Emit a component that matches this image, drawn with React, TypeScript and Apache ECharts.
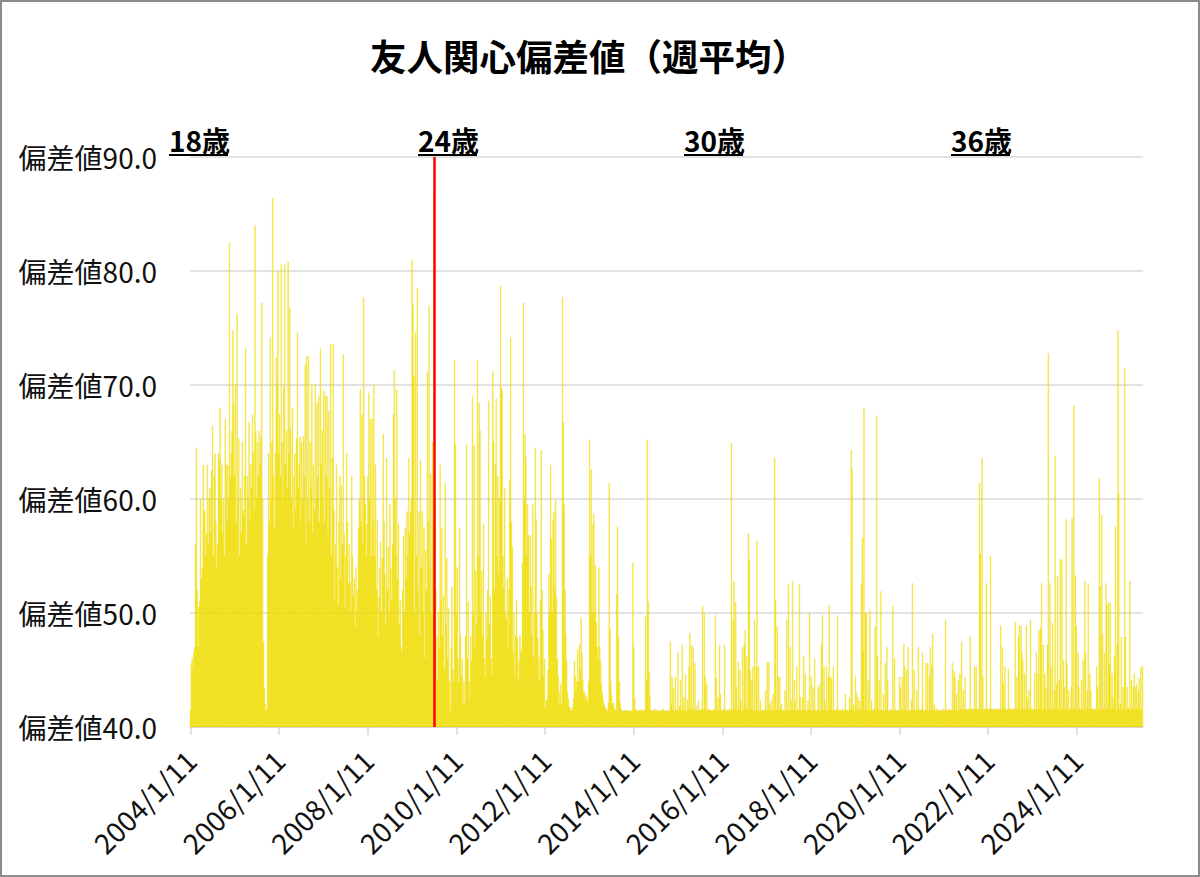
import React, { useEffect, useRef } from "react";
import * as echarts from "echarts";

const FONT = '"Noto Sans CJK JP", "Noto Sans", sans-serif';

const titleText = "友人関心偏差値（週平均）";
const startDate = "2004/1/11";
const birthday24 = "2009/7/10";
const ageLabels = ["18歳", "24歳", "30歳", "36歳"];
const xTickLabels = [
  "2004/1/11", "2006/1/11", "2008/1/11", "2010/1/11", "2012/1/11", "2014/1/11",
  "2016/1/11", "2018/1/11", "2020/1/11", "2022/1/11", "2024/1/11",
];
const yTicks = [40, 50, 60, 70, 80, 90];

// weekly values, consecutive 52-week blocks starting 2004/1/11
const weeks2004 = [
  41.5, 45.5, 46, 45, 46.5, 47, 56, 64.5, 52, 47,
  50.5, 51, 60, 53, 54, 63, 58.8, 59, 55, 57,
  63, 56, 60, 61, 57, 62.5, 66.4, 55, 62, 64,
  58, 54, 56, 64, 63.5, 68, 60, 63, 57, 60,
  55, 67, 63, 58, 63, 60, 82.5, 62, 64, 66,
  74.8, 68.4,
];
const weeks2005 = [
  62, 70.1, 58, 76.3, 60, 65.3, 55, 61, 57, 65,
  59, 58.5, 62, 73.2, 56, 62, 60, 66.7, 58, 63,
  61, 67.4, 64, 59, 84, 66, 60, 65, 62, 66,
  63, 65.5, 77.2, 60, 47.5, 43.4, 42, 41.4, 41.5, 55,
  64, 58, 74.2, 60, 65, 86.4, 62, 57.5, 64, 72.4,
  70.1, 80,
];
const weeks2006 = [
  64, 67.4, 62, 80.6, 65, 60, 69.8, 80.6, 63, 66,
  61, 80.8, 64, 76.8, 66, 60, 68, 57.5, 62, 64,
  59, 65.3, 74.6, 61, 63, 65.5, 58, 65, 60, 65.5,
  62, 71.8, 56, 72.5, 60, 72.5, 58, 65, 61, 70,
  57, 63, 59, 70.1, 60, 68.4, 62, 69, 58, 73.2,
  63, 66,
];
const weeks2007 = [
  60, 69.5, 58, 69.1, 62, 69, 57, 67.7, 61, 73.6,
  55, 63.6, 73.6, 59, 51, 56, 63, 54, 50.7, 58,
  62, 53, 61.2, 56, 72.7, 57, 50.4, 55, 64, 58,
  52.5, 56, 52.7, 50, 62, 55, 51.5, 53, 48.8, 54,
  50.2, 52, 57.5, 60, 69.6, 58, 67.4, 56, 77.7, 62,
  59.5, 55,
];
const weeks2008 = [
  57.8, 62, 69.3, 60, 67, 55, 67, 58, 70, 55,
  63, 52, 58.2, 48, 51.3, 54, 56.2, 50, 54.8, 65.7,
  58, 53.4, 49, 63.6, 52, 55.8, 50, 59.5, 54, 51.1,
  56, 67.4, 71.3, 60, 55, 69.6, 53, 57.8, 49, 51.1,
  47, 46.5, 52, 56.8, 50, 57.5, 53, 58.9, 55, 63.6,
  57, 58.9,
];
const weeks2009 = [
  60, 81, 77, 70.8, 50, 74.6, 55, 78.5, 52, 58.9,
  48, 63.4, 54, 58.9, 50, 57.5, 46, 55.5, 52, 71.2,
  58, 77, 54, 62.2, 50, 65, 58, 87, 60, 52,
  47.9, 44, 50, 47, 63, 51, 57.5, 48, 51.5, 45,
  61.4, 49, 54.8, 46, 50.4, 44, 41.4, 47, 52.3, 45,
  43.8, 72.2,
];
const weeks2010 = [
  64.8, 50, 54, 46, 43.8, 57.5, 48, 44.5, 46, 42,
  44, 42, 48, 64.8, 46, 51, 44, 42.4, 48, 45.8,
  69, 50, 64.7, 47, 53.7, 49, 72.2, 55, 68.4, 66,
  50, 53.7, 48, 57.8, 46, 44.4, 50, 47.8, 52, 68.6,
  49, 51.4, 46, 44.4, 71.2, 65, 52, 63, 68.8, 55,
  62, 53.4,
];
const weeks2011 = [
  60, 78.7, 69.8, 69.5, 55, 52.1, 60.9, 50, 49.5, 53,
  46.8, 52, 61.7, 74.2, 58, 55.8, 46.5, 50, 44.5, 48,
  51.1, 47.8, 44, 45.8, 48, 46.5, 46.8, 54.4, 77.2, 60,
  65.7, 63.7, 55, 59.5, 56.8, 50, 56.8, 52.3, 48, 59.5,
  46.1, 50, 64.5, 58.2, 50, 47.8, 46.1, 44, 51.1, 64.3,
  52, 48.5,
];
const weeks2012 = [
  44.4, 46, 41.7, 42.4, 42.4, 45, 53.4, 50, 63, 56.5,
  50, 58.2, 58.9, 52, 59.9, 51.4, 46, 44.5, 42.1, 43.1,
  43.8, 42, 77.7, 66.7, 59.5, 52, 48.2, 45.8, 43, 42.4,
  41.7, 41.7, 41.4, 41.5, 41.7, 42.5, 45.8, 44.5, 43.1, 44,
  46.8, 44, 47.2, 45, 49.6, 46.5, 44.1, 43, 43.1, 42.5,
  42.8, 42.1,
];
const weeks2013 = [
  42.4, 44, 65.2, 55, 62.6, 50, 57.8, 58.7, 50, 54.2,
  49.2, 47, 45.8, 54, 47, 45.8, 43.8, 43, 42.4, 42,
  41.7, 41.7, 41.5, 41.4, 42.1, 61.4, 48.6, 44, 42.8, 42.1,
  42.1, 41.7, 41.5, 41.4, 51.7, 57.6, 47.9, 44, 42.1, 41.6,
  41.4, 41.4, 41.4, 41.5, 41.4, 41.4, 41.5, 41.4, 41.4, 41.5,
  41.4, 41.4,
];
const weeks2014 = [
  41.4, 54.4, 47, 42.5, 41.6, 41.4, 41.5, 41.4, 41.4, 41.5,
  41.4, 41.6, 41.4, 41.4, 41.5, 41.4, 49.7, 44, 65.2, 51,
  44.8, 42.7, 41.5, 41.4, 41.5, 41.4, 41.4, 41.6, 41.4, 41.5,
  41.4, 41.4, 41.5, 41.4, 41.4, 41.5, 41.4, 41.6, 41.4, 41.4,
  41.5, 41.4, 41.4, 41.5, 41.4, 47.5, 42, 44.4, 41.5, 43.4,
  41.4, 44.4,
];
const weeks2015 = [
  41.5, 41.4, 46.5, 41.5, 41.8, 44.1, 41.5, 47.2, 41.4, 42.6,
  41.5, 44.6, 41.4, 42.4, 41.5, 45.3, 48.2, 41.6, 47.2, 41.5,
  47, 41.4, 45.6, 41.5, 41.8, 41.4, 42.3, 41.5, 41.4, 41.5,
  41.6, 50.6, 41.5, 50, 44.4, 41.5, 43.8, 41.4, 41.6, 41.5,
  41.4, 41.5, 41.4, 41.5, 41.4, 41.6, 49.8, 44.3, 41.5, 42.6,
  41.4, 47.2,
];
const weeks2016 = [
  42.9, 41.5, 41.4, 41.5, 41.6, 47.2, 41.5, 41.4, 41.5, 41.4,
  41.5, 41.6, 41.4, 64.9, 41.5, 49.4, 52.8, 41.6, 50.9, 43.5,
  41.5, 45.7, 41.5, 45, 42.3, 41.4, 47, 41.5, 47.2, 48.5,
  41.6, 46.2, 41.5, 57, 54.7, 45, 41.5, 44.1, 45.3, 41.5,
  49.4, 41.4, 45.3, 56.3, 41.5, 45.3, 41.4, 42.3, 41.5, 41.4,
  41.5, 41.4,
];
const weeks2017 = [
  41.5, 43.2, 41.5, 45.7, 41.4, 45.7, 42, 41.5, 42.3, 41.5,
  42.9, 41.4, 63.6, 51.1, 41.5, 48.8, 44.4, 41.5, 44.4, 41.6,
  42, 41.4, 41.5, 41.4, 43.2, 41.5, 49.4, 41.5, 52.5, 41.4,
  47, 41.5, 42.3, 52.8, 41.5, 44.1, 42.3, 41.4, 45.3, 41.5,
  41.5, 52.5, 42.6, 41.4, 41.5, 42.6, 46.2, 41.5, 44.7, 41.4,
  41.5, 42.3,
];
const weeks2018 = [
  41.5, 50, 41.5, 44.4, 41.4, 43.5, 41.5, 46, 41.5, 41.4,
  41.5, 43.5, 41.5, 43.8, 41.4, 47.3, 49.8, 41.5, 45.3, 42.3,
  41.5, 45.3, 41.4, 44.4, 50.7, 41.5, 44.4, 44.2, 41.5, 45.3,
  41.5, 41.4, 41.5, 41.6, 49.8, 41.5, 41.4, 41.5, 41.4, 41.5,
  41.6, 41.4, 41.5, 42.9, 41.4, 41.5, 41.5, 41.4, 42.6, 41.5,
  64.3, 62.6,
];
const weeks2019 = [
  41.5, 42, 41.4, 44.4, 43, 41.5, 42.6, 41.4, 42.3, 41.5,
  52.6, 56.6, 46.7, 68, 41.5, 50, 50, 41.5, 44.1, 41.4,
  50.3, 41.5, 42.3, 41.4, 41.5, 41.6, 48.8, 41.5, 67.3, 46.2,
  41.5, 44.1, 41.4, 51.9, 41.5, 41.5, 42.9, 41.4, 45.6, 41.5,
  47, 44.1, 41.4, 41.5, 41.4, 41.6, 41.5, 50.6, 41.4, 46,
  41.5, 41.4,
];
const weeks2020 = [
  41.5, 41.4, 41.5, 44.4, 43.5, 41.5, 44.4, 41.4, 47.3, 45.3,
  41.5, 45, 41.4, 47, 41.5, 41.5, 41.4, 42.3, 52.6, 41.5,
  45, 41.4, 41.5, 43.2, 41.5, 47, 41.5, 41.4, 41.5, 41.6,
  46.5, 41.5, 41.4, 41.5, 45.6, 41.5, 45.6, 41.4, 44.4, 47,
  41.5, 45.4, 48.2, 41.5, 42, 41.4, 41.5, 41.6, 41.4, 41.5,
  41.5, 41.4,
];
const weeks2021 = [
  41.5, 41.4, 41.5, 41.6, 41.4, 49.4, 41.5, 41.4, 41.5, 41.6,
  41.4, 41.5, 41.5, 45.6, 41.4, 44.9, 44.4, 41.5, 42.9, 41.4,
  44.1, 41.5, 44.7, 41.6, 47.5, 41.5, 43.2, 41.6, 44.4, 41.5,
  41.6, 41.5, 41.6, 41.5, 47.9, 41.6, 41.5, 41.6, 41.5, 45.3,
  41.6, 45.3, 41.5, 41.6, 41.5, 61.4, 55.2, 41.6, 63.6, 44.4,
  41.5, 41.6,
];
const weeks2022 = [
  41.5, 52.6, 41.6, 41.5, 41.6, 41.5, 55, 41.6, 41.5, 41.6,
  41.5, 41.6, 41.5, 41.6, 41.5, 41.6, 41.5, 41.6, 48.9, 41.5,
  47, 43.8, 41.6, 45.3, 41.5, 41.6, 41.5, 45.1, 41.6, 41.5,
  41.6, 41.5, 41.6, 41.5, 41.6, 49.2, 41.5, 44.4, 41.6, 47.9,
  48.9, 41.5, 48.9, 46.5, 45.9, 41.6, 44.7, 41.5, 48.9, 42.6,
  41.6, 43.2,
];
const weeks2023 = [
  41.5, 49.4, 41.6, 41.5, 41.6, 41.5, 44.7, 41.6, 46.5, 41.5,
  44.7, 48.5, 41.6, 48.7, 52.6, 41.5, 47.2, 41.6, 44.7, 43.5,
  41.5, 47.2, 72.8, 41.6, 52.6, 45.3, 41.5, 49.1, 41.6, 43.2,
  63.8, 41.5, 43.8, 53.2, 41.6, 44.1, 54.7, 41.5, 54.7, 41.6,
  45.9, 43.5, 41.5, 58.2, 45.6, 41.6, 43.2, 41.5, 41.6, 43.5,
  58.3, 41.5,
];
const weeks2024 = [
  68.2, 41.6, 53.3, 48.8, 41.5, 46.5, 43.5, 41.6, 41.5, 44.1,
  41.6, 45.9, 41.5, 52.8, 46.5, 41.6, 43.2, 52.6, 41.5, 44.7,
  43.2, 41.6, 41.5, 41.6, 41.5, 41.6, 41.5, 45.3, 43.5, 41.6,
  61.8, 52.3, 41.5, 58.6, 48.2, 41.6, 46.5, 41.5, 52.6, 50.7,
  41.6, 50.9, 45.6, 50.9, 41.5, 44.7, 42.6, 41.6, 46.2, 57.6,
  41.5, 47.2,
];
const weeks2025 = [
  74.8, 60.5, 41.6, 42, 47.9, 41.5, 43.5, 41.6, 71.5, 47.9,
  41.5, 43.5, 41.7, 41.6, 52.8, 41.5, 44.1, 41.6, 43.5, 44.7,
  41.5, 43.5, 43.8, 41.6, 43.2, 44.3, 41.5, 45.3, 41.6, 45.3,
];

const weeklyValues = [
  ...weeks2004, ...weeks2005, ...weeks2006, ...weeks2007, ...weeks2008,
  ...weeks2009, ...weeks2010, ...weeks2011, ...weeks2012, ...weeks2013,
  ...weeks2014, ...weeks2015, ...weeks2016, ...weeks2017, ...weeks2018,
  ...weeks2019, ...weeks2020, ...weeks2021, ...weeks2022, ...weeks2023,
  ...weeks2024, ...weeks2025,
];

function dayOffset(s: string): number {
  return Math.round((Date.parse(s) - Date.parse(startDate)) / 86400000);
}

export default function App() {
  const ref = useRef<HTMLDivElement>(null);

  useEffect(() => {
    document.body.style.margin = "0";
    const chart = echarts.init(ref.current as HTMLDivElement, null, { renderer: "svg" });
    const data = weeklyValues.map((v, i) => [i * 7, v]);
    const tickDays = xTickLabels.map(dayOffset);
    const bdDay = dayOffset(birthday24);

    const ageX = [169, 418, 684, 951];
    const graphic: any[] = [
      {
        type: "text",
        x: 589,
        y: 55,
        style: {
          text: titleText,
          fontFamily: FONT,
          fontSize: 36.5,
          fontWeight: "bold",
          fill: "#000",
          textAlign: "center",
          textVerticalAlign: "middle",
        },
      },
    ];
    ageLabels.forEach((t, i) => {
      graphic.push({
        type: "text",
        x: ageX[i],
        y: 140,
        style: {
          text: t,
          fontFamily: FONT,
          fontSize: 28,
          fontWeight: "bold",
          fill: "#000",
          textAlign: "left",
          textVerticalAlign: "middle",
        },
      });
      graphic.push({
        type: "line",
        shape: { x1: ageX[i], y1: 155, x2: ageX[i] + 59, y2: 155 },
        style: { stroke: "#000", lineWidth: 2 },
      });
    });

    chart.setOption({
      animation: false,
      backgroundColor: "#ffffff",
      textStyle: { fontFamily: FONT },
      grid: { left: 190, right: 57, top: 157, bottom: 150 },
      xAxis: {
        type: "value",
        min: -3.5,
        max: (weeklyValues.length - 1) * 7 + 3.5,
        splitLine: { show: false },
        axisLine: { show: true, onZero: false, lineStyle: { color: "#d9d9d9", width: 1.5 } },
        axisTick: {
          show: true,
          customValues: tickDays,
          length: 8,
          lineStyle: { color: "#d9d9d9", width: 1.5 },
        },
        axisLabel: {
          customValues: tickDays,
          rotate: 45,
          fontSize: 28,
          color: "#111",
          fontFamily: FONT,
          margin: 28,
          formatter: (v: number) => {
            const idx = tickDays.indexOf(Math.round(v));
            return idx >= 0 ? xTickLabels[idx] : "";
          },
        },
      },
      yAxis: {
        type: "value",
        min: yTicks[0],
        max: yTicks[yTicks.length - 1],
        interval: 10,
        axisLine: { show: false, onZero: false },
        axisTick: { show: false },
        splitLine: { lineStyle: { color: "#d9d9d9", width: 1.5 } },
        axisLabel: {
          fontSize: 28,
          color: "#111",
          fontFamily: FONT,
          margin: 33,
          formatter: (v: number) => "偏差値" + v.toFixed(1),
        },
      },
      series: [
        {
          type: "bar",
          data,
          barWidth: 0.9,
          itemStyle: { color: "#FFFF00", borderColor: "#D9AA10", borderWidth: 0.22 },
          markLine: {
            silent: true,
            symbol: "none",
            label: { show: false },
            lineStyle: { color: "#FF0000", width: 2.5, type: "solid" },
            data: [{ xAxis: bdDay }],
          },
        },
      ],
      graphic,
    });

    return () => chart.dispose();
  }, []);

  return (
    <div style={{ position: "relative", width: 1200, height: 877 }}>
      <div ref={ref} style={{ width: 1200, height: 877 }} />
      <div
        style={{
          position: "absolute",
          left: 0,
          top: 0,
          width: 1200,
          height: 877,
          border: "2px solid #8c8c8c",
          boxSizing: "border-box",
          pointerEvents: "none",
        }}
      />
    </div>
  );
}
